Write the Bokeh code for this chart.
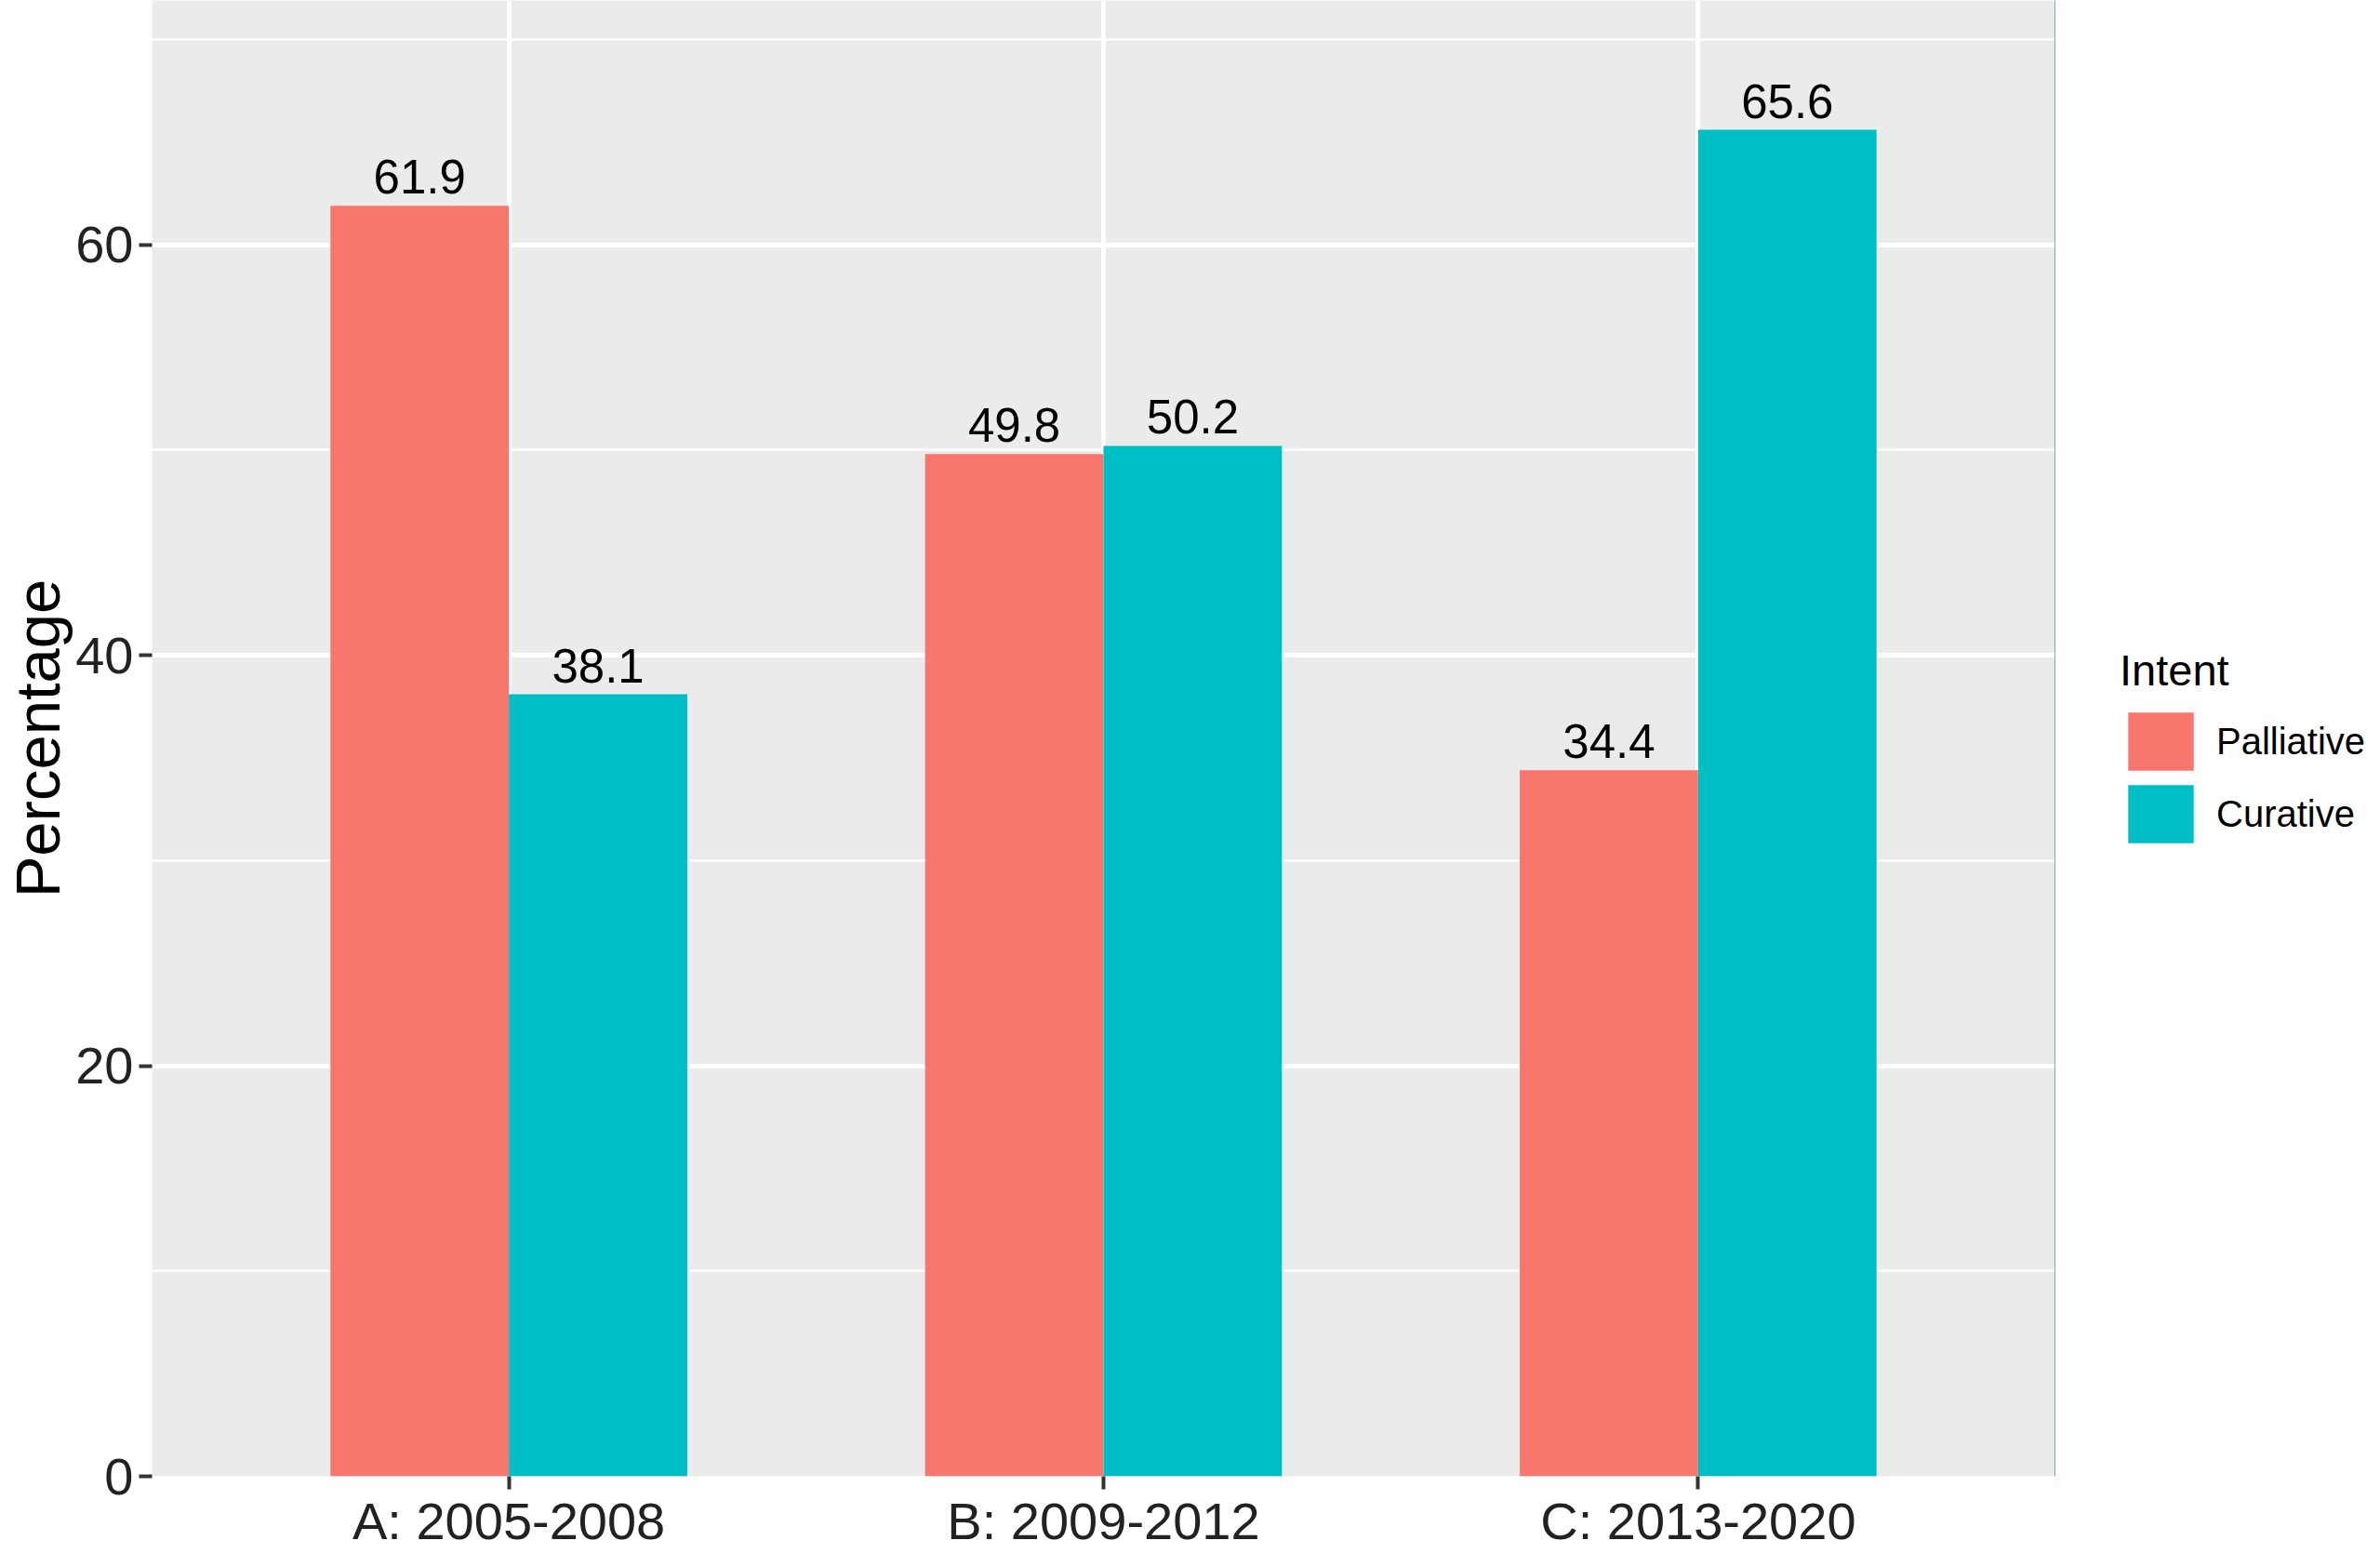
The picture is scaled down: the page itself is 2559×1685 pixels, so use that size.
from bokeh.plotting import figure
from bokeh.layouts import row
from bokeh.models import (ColumnDataSource, Range1d, FixedTicker, SingleIntervalTicker,
                          Legend, LegendItem)
from bokeh.transform import dodge
from bokeh.core.properties import value
from bokeh.embed import file_html
from bokeh.resources import INLINE

# ---- data ----
periods = ["A: 2005-2008", "B: 2009-2012", "C: 2013-2020"]
intents = ["Palliative", "Curative"]
palliative = [61.9, 49.8, 34.4]
curative = [38.1, 50.2, 65.6]

FONT = "Liberation Sans"
colors = {"Palliative": "#F8766D", "Curative": "#00BFC4"}

xpos = [i + 1 for i in range(len(periods))]
src = ColumnDataSource(dict(
    x=xpos,
    pal=palliative,
    cur=curative,
    pal_lbl=[f"{v:.1f}" for v in palliative],
    cur_lbl=[f"{v:.1f}" for v in curative],
))

H = 1669
p = figure(width=2209, height=H, output_backend="svg", toolbar_location=None,
           x_range=Range1d(0.4, 3.6), y_range=Range1d(0, 71.9),
           min_border_top=0, min_border_left=0, min_border_right=0,
           min_border_bottom=0)

p.background_fill_color = "#EBEBEB"
p.border_fill_color = "white"
p.outline_line_color = None

# grid
p.xgrid.ticker = FixedTicker(ticks=xpos)
p.xgrid.grid_line_color = "white"
p.xgrid.grid_line_width = 5
yt = SingleIntervalTicker(interval=20, num_minor_ticks=2)
p.yaxis.ticker = yt
p.ygrid.ticker = yt
p.ygrid.grid_line_color = "white"
p.ygrid.grid_line_width = 5
p.ygrid.minor_grid_line_color = "white"
p.ygrid.minor_grid_line_width = 2.5

# bars
r_pal = p.vbar(x=dodge("x", -0.15, range=p.x_range), top="pal", width=0.3, bottom=0,
               source=src, fill_color=colors["Palliative"], line_color=None)
r_cur = p.vbar(x=dodge("x", 0.15, range=p.x_range), top="cur", width=0.3, bottom=0,
               source=src, fill_color=colors["Curative"], line_color=None)

# bar labels
for col, lbl, off in (("pal", "pal_lbl", -0.15), ("cur", "cur_lbl", 0.15)):
    p.text(x=dodge("x", off, range=p.x_range), y=col, text=lbl, source=src,
           text_align="center", text_baseline="bottom", y_offset=-13,
           text_font=value(FONT), text_font_size="51px", text_color="black")

# axes
for ax in (p.xaxis, p.yaxis):
    ax.axis_line_color = None
    ax.major_tick_in = 0
    ax.major_tick_out = 14
    ax.major_tick_line_color = "#333333"
    ax.major_tick_line_width = 4
    ax.minor_tick_line_color = None
    ax.major_label_text_font = FONT
    ax.major_label_text_font_size = "56px"
    ax.major_label_text_color = "#222222"

p.xaxis.ticker = FixedTicker(ticks=xpos)
p.xaxis.major_label_overrides = {x: lab for x, lab in zip(xpos, periods)}
p.xaxis.major_label_standoff = 2
p.xaxis.major_label_text_line_height = 0.8

p.yaxis.major_label_standoff = 6
p.yaxis.axis_label = "Percentage"
p.yaxis.axis_label_text_font = FONT
p.yaxis.axis_label_text_font_size = "67px"
p.yaxis.axis_label_text_font_style = "normal"
p.yaxis.axis_label_text_color = "black"
p.yaxis.axis_label_standoff = 0
p.yaxis.axis_label_text_line_height = 0.85

# legend, drawn in a narrow companion panel at the right
# (its bars use the same data but lie outside this panel's visible range)
q = figure(width=334, height=H, output_backend="svg", toolbar_location=None,
           x_range=Range1d(100, 101), y_range=Range1d(0, 1),
           x_axis_type=None, y_axis_type=None,
           min_border_top=0, min_border_left=0, min_border_right=0, min_border_bottom=0)
q.outline_line_color = None
q.background_fill_color = "white"
q.border_fill_color = "white"
k_pal = q.vbar(x=dodge("x", -0.15), top="pal", width=0.3, source=src,
               fill_color=colors["Palliative"], line_color=None)
k_cur = q.vbar(x=dodge("x", 0.15), top="cur", width=0.3, source=src,
               fill_color=colors["Curative"], line_color=None)

legend = Legend(items=[LegendItem(label=intents[0], renderers=[k_pal], index=0),
                       LegendItem(label=intents[1], renderers=[k_cur], index=0)],
                location=(70, 673), orientation="vertical",
                title="Intent", title_text_font=FONT, title_text_font_size="47px",
                title_text_font_style="normal", title_text_color="black",
                title_standoff=10,
                label_text_font=FONT, label_text_font_size="40px", label_text_color="black",
                glyph_width=88, glyph_height=78, label_height=78, spacing=0,
                padding=0, margin=0, label_standoff=16,
                background_fill_alpha=0, border_line_color=None)
q.add_layout(legend)

layout = row(p, q)
open("out.html", "w").write(file_html(layout, INLINE))
